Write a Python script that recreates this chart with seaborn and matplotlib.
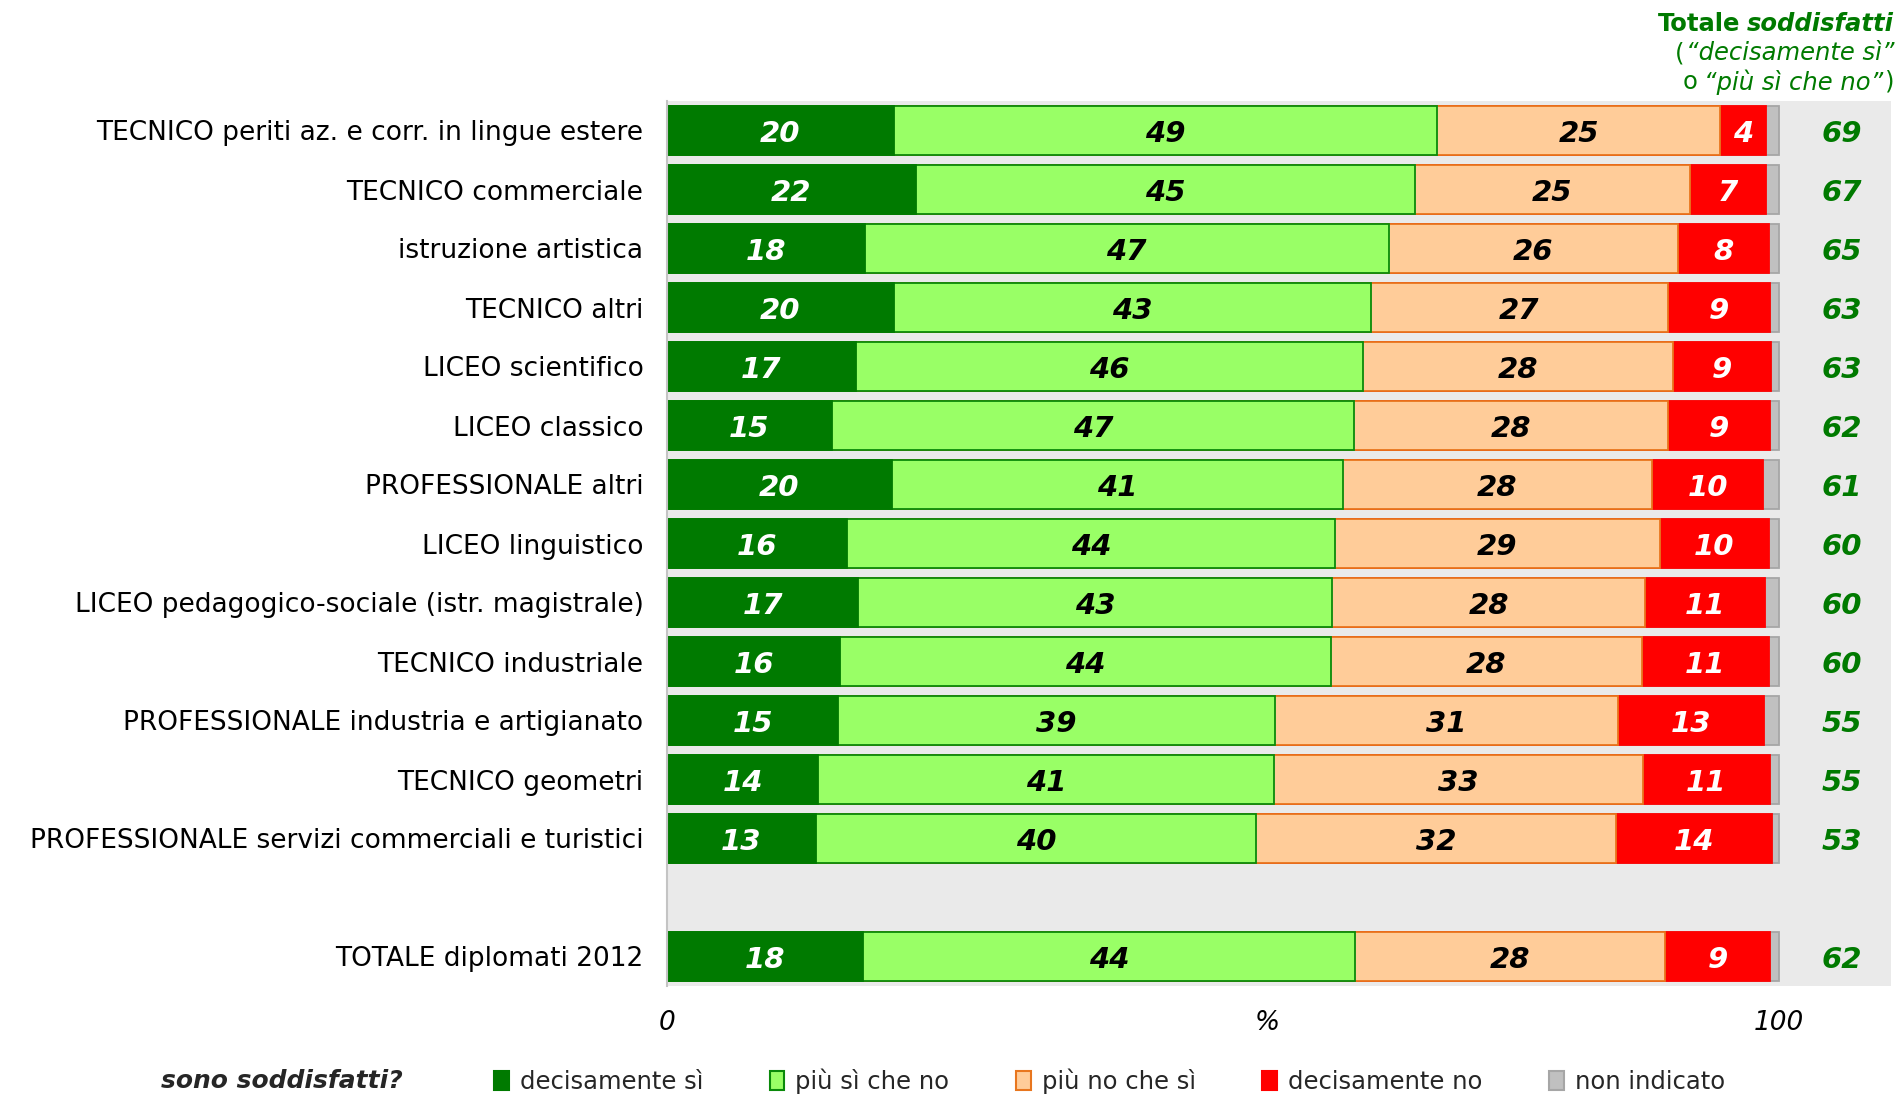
import numpy as np
import pandas as pd
import seaborn as sns
import matplotlib.pyplot as plt
from matplotlib.patches import Patch

# Categories (blank entry = empty row before the total)
categories = [
    'TECNICO periti az. e corr. in lingue estere',
    'TECNICO commerciale',
    'istruzione artistica',
    'TECNICO altri',
    'LICEO scientifico',
    'LICEO classico',
    'PROFESSIONALE altri',
    'LICEO linguistico',
    'LICEO pedagogico-sociale (istr. magistrale)',
    'TECNICO industriale',
    'PROFESSIONALE industria e artigianato',
    'TECNICO geometri',
    'PROFESSIONALE servizi commerciali e turistici',
    '',
    'TOTALE diplomati 2012',
]

nan = np.nan
decisamente_si = [20.4, 22.4, 17.8, 20.4, 17.0, 14.8, 20.2, 16.2, 17.2, 15.6, 15.4, 13.6, 13.4, nan, 17.6]
piu_si_che_no = [48.9, 44.9, 47.1, 42.9, 45.6, 47.0, 40.6, 43.9, 42.6, 44.1, 39.3, 41.0, 39.6, nan, 44.3]
piu_no_che_si = [25.4, 24.7, 26.0, 26.7, 27.9, 28.2, 27.8, 29.2, 28.2, 28.0, 30.8, 33.2, 32.4, nan, 27.9]
decisamente_no = [4.2, 6.9, 8.2, 9.2, 8.8, 9.2, 10.0, 9.8, 10.8, 11.4, 13.2, 11.4, 14.0, nan, 9.4]
non_indicato = [1.1, 1.1, 0.9, 0.8, 0.7, 0.8, 1.4, 0.9, 1.2, 0.9, 1.3, 0.8, 0.6, nan, 0.8]
totale_soddisfatti = [69, 67, 65, 63, 63, 62, 61, 60, 60, 60, 55, 55, 53, nan, 62]

series = ['decisamente sì', 'più sì che no', 'più no che sì', 'decisamente no', 'non indicato']
faces = ['#007A00', '#99FF66', '#FFCC99', '#FF0000', '#C0C0C0']
edges = ['#007A00', '#0A8A0A', '#E8761E', '#FF0000', '#A6A6A6']
text_cols = ['white', 'black', 'black', 'white', None]

df = pd.DataFrame({
    'categoria': categories,
    series[0]: decisamente_si,
    series[1]: piu_si_che_no,
    series[2]: piu_no_che_si,
    series[3]: decisamente_no,
    series[4]: non_indicato,
})
cum = df[series].cumsum(axis=1)

sns.set_theme(style='white')
plt.rcParams['font.family'] = ['DejaVu Sans']

W, H = 1901, 1095
fig = plt.figure(figsize=(W / 100, H / 100), dpi=100)
ax = fig.add_axes([667 / W, 1 - 986 / H, (1891 - 667) / W, (986 - 101) / H])

# stacked bars: draw cumulative totals from the longest to the shortest
for k in range(len(series) - 1, -1, -1):
    plot_df = pd.DataFrame({'categoria': categories, 'x': cum[series[k]]})
    sns.barplot(data=plot_df, x='x', y='categoria', order=categories, orient='h',
                color=faces[k], edgecolor=edges[k], linewidth=1.3, width=0.82,
                saturation=1, errorbar=None, ax=ax)

# values inside the segments
dy = 0.06
for i in range(len(categories)):
    if categories[i] == '':
        continue
    start = 0
    for k in range(len(series)):
        v = df.loc[i, series[k]]
        if text_cols[k] is not None:
            ax.text(start + v / 2, i + dy, f'{v:.0f}', ha='center', va='center',
                    color=text_cols[k], fontsize=21, fontweight='bold', style='italic')
        start += v
    ax.text(105.7, i + dy, f'{totale_soddisfatti[i]:.0f}', ha='center', va='center',
            color='#007A00', fontsize=21, fontweight='bold', style='italic')

ax.set_facecolor('#EAEAEA')
ax.set_xlim(0, 110.1)
ax.set_ylim(14.5, -0.5)
ax.set_xlabel('')
ax.set_ylabel('')
ax.grid(False)
for s in ['top', 'right', 'bottom']:
    ax.spines[s].set_visible(False)
ax.spines['left'].set_color('#C4C4C4')
ax.spines['left'].set_linewidth(1.5)

ax.set_yticks(range(len(categories)))
ax.set_yticklabels(categories)
ax.tick_params(axis='y', length=0, pad=17, labelsize=19, labelcolor='black')
ax.set_xticks([0, 54, 100])
ax.set_xticklabels(['0', '%', '100'])
ax.tick_params(axis='x', length=0, pad=17, labelsize=19, labelcolor='black')
for lbl in ax.get_xticklabels():
    lbl.set_style('italic')

# header of the totals column (mixed styles, right aligned)
renderer = fig.canvas.get_renderer()


def right_text(x_px, y_px, pieces, size):
    for txt, kw, gap in reversed(pieces):
        t = fig.text(x_px / W, 1 - y_px / H, txt, ha='right', va='center',
                     color='#007A00', fontsize=size, **kw)
        x_px = t.get_window_extent(renderer).x0 - gap


right_text(1894, 24, [('Totale', {'fontweight': 'bold'}, 0),
                      ('soddisfatti', {'fontweight': 'bold', 'style': 'italic'}, 7)], 17.5)
right_text(1894, 53, [('(', {}, 0),
                      ('“decisamente sì”', {'style': 'italic'}, 1)], 17.5)
right_text(1894, 82, [('o', {}, 0),
                      ('“più sì che no”', {'style': 'italic'}, 7),
                      (')', {}, 1)], 17.5)

# legend
fig.text(161 / W, 1 - 1081 / H, 'sono soddisfatti?', ha='left', va='center',
         fontsize=18, fontweight='bold', style='italic')
handles = [Patch(facecolor=faces[k], edgecolor=edges[k], linewidth=1.5) for k in range(len(series))]
fig.legend(handles, series, ncol=5, loc='center left', bbox_to_anchor=(494 / W, 1 - 1081 / H),
           frameon=False, fontsize=17.5, handlelength=0.6, handleheight=0.85,
           handletextpad=0.45, columnspacing=2.75, borderaxespad=0, borderpad=0)

fig.savefig('out.png', dpi=100)
